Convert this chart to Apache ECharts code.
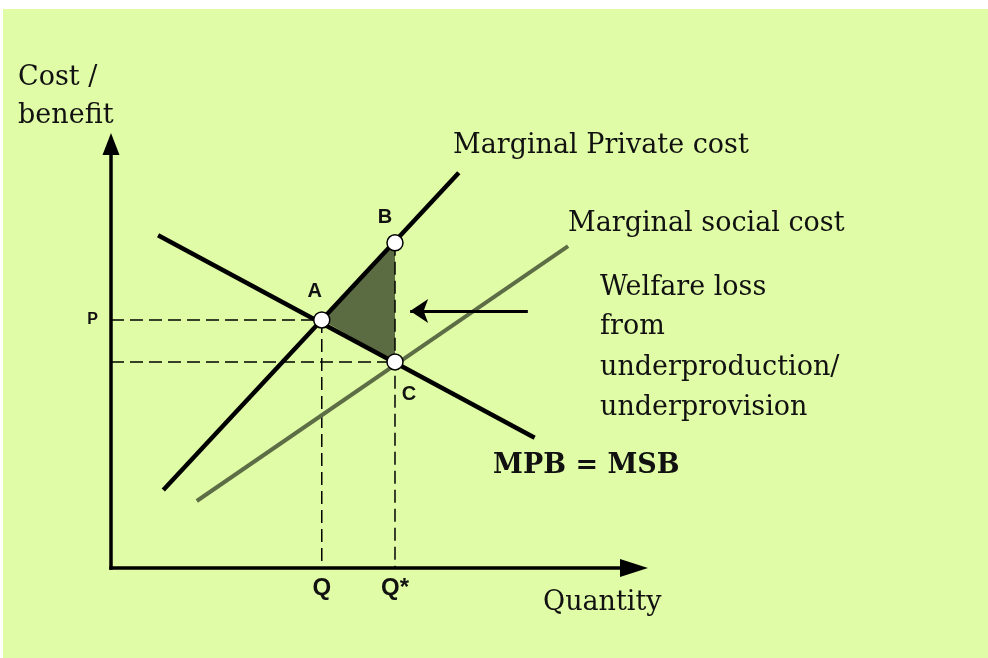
<!DOCTYPE html>
<html>
<head>
<meta charset="utf-8">
<script src="https://cdn.jsdelivr.net/npm/echarts@6/dist/echarts.min.js"></script>
<style>
  html, body { margin: 0; padding: 0; background: #fff; }
  #bg { position: absolute; left: 3px; top: 9px; width: 985px; height: 649px; background: #e0fca6; }
  #main { position: absolute; left: 0; top: 0; width: 988px; height: 658px; }
</style>
</head>
<body>
<div id="bg"></div>
<div id="main"></div>
<script>
// curves, quantity 0-100 on x, cost/benefit 0-100 on y
var mpbLine = [[9, 78.5], [81, 30.7]];        // MPB = MSB
var mpcLine = [[10, 18.4], [66.5, 93.2]];     // marginal private cost
var mscLine = [[16.4, 15.8], [87.4, 75.9]];   // marginal social cost
var Q = 40.3, Qstar = 54.3, P = 58.5, Pc = 48.6;
var pointNames = ['A', 'B', 'C'];
var pointValues = [[Q, P], [Qstar, 76.7], [Qstar, Pc]];
var arrowCoords = [[79.7, 60.6], [57.2, 60.6]];
var xTickLabels = ['Q', 'Q*'];
var yTickLabels = ['P'];

var myChart = echarts.init(document.getElementById('main'));

var serif = '"DejaVu Serif", serif';
var dash = { color: '#000', width: 1.5, type: [13, 6] };

// y is the top of the text box (baseline is about 21px lower)
function txt(text, x, y, bold) {
    return {
        type: 'text', x: x, y: y,
        style: {
            text: text, fill: '#111',
            font: (bold ? 'bold ' : '') + '27px ' + serif,
            verticalAlign: 'top'
        }
    };
}

var option = {
    animation: false,
    grid: { left: 111, top: 144, width: 523, height: 424, outerBoundsMode: 'none' },
    xAxis: {
        type: 'value', min: 0, max: 100,
        splitLine: { show: false },
        axisTick: { show: false },
        axisLine: {
            show: true, symbol: ['none', 'triangle'], symbolSize: [18, 28],
            lineStyle: { color: '#000', width: 3.5, cap: 'square' }
        },
        axisLabel: {
            customValues: [Q, Qstar],
            formatter: function (v) { return v === Q ? xTickLabels[0] : xTickLabels[1]; },
            color: '#111', fontSize: 24, fontWeight: 'bold',
            fontFamily: '"Liberation Sans", Arial, sans-serif', margin: 8
        }
    },
    yAxis: {
        type: 'value', min: 0, max: 100,
        splitLine: { show: false },
        axisTick: { show: false },
        axisLine: {
            show: true, symbol: ['none', 'triangle'], symbolSize: [17, 22],
            lineStyle: { color: '#000', width: 3.5, cap: 'square' }
        },
        axisLabel: {
            customValues: [P],
            formatter: function () { return yTickLabels[0]; },
            color: '#111', fontSize: 16, fontWeight: 'bold',
            fontFamily: '"Liberation Sans", Arial, sans-serif', margin: 13
        }
    },
    series: [
        {
            // welfare loss triangle
            type: 'custom',
            z: 1,
            data: [[pointValues[0][0], pointValues[0][1], pointValues[1][0], pointValues[1][1], pointValues[2][0], pointValues[2][1]]],
            encode: { x: [0, 2, 4], y: [1, 3, 5] },
            renderItem: function (params, api) {
                var pts = [];
                for (var i = 0; i < 3; i++) {
                    pts.push(api.coord([api.value(i * 2), api.value(i * 2 + 1)]));
                }
                return { type: 'polygon', shape: { points: pts }, style: { fill: '#5c6c42' } };
            }
        },
        { type: 'line', data: [[0, P], pointValues[0]], symbol: 'none', lineStyle: dash, z: 2 },
        { type: 'line', data: [[0, Pc], pointValues[2]], symbol: 'none', lineStyle: dash, z: 2 },
        { type: 'line', data: [pointValues[0], [Q, 0]], symbol: 'none', lineStyle: dash, z: 2 },
        { type: 'line', data: [pointValues[1], [Qstar, 0]], symbol: 'none', lineStyle: dash, z: 2 },
        { type: 'line', data: mscLine, symbol: 'none', lineStyle: { color: '#5d6d45', width: 4 }, z: 3 },
        { type: 'line', data: mpbLine, symbol: 'none', lineStyle: { color: '#000', width: 4.5 }, z: 4 },
        { type: 'line', data: mpcLine, symbol: 'none', lineStyle: { color: '#000', width: 4.5 }, z: 4 },
        {
            type: 'lines', coordinateSystem: 'cartesian2d', z: 4,
            symbol: ['none', 'arrow'], symbolSize: [14, 18],
            lineStyle: { color: '#000', width: 3, opacity: 1 },
            data: [{ coords: arrowCoords }]
        },
        {
            type: 'scatter', z: 6,
            symbol: 'circle', symbolSize: 16,
            itemStyle: { color: '#fff', borderColor: '#000', borderWidth: 1.5, opacity: 1 },
            label: {
                show: true, position: 'inside',
                formatter: function (p) { return pointNames[p.dataIndex]; },
                color: '#111', fontSize: 20, fontWeight: 'bold',
                fontFamily: '"Liberation Sans", Arial, sans-serif'
            },
            data: [
                { value: pointValues[0], label: { offset: [-7, -28] } },
                { value: pointValues[1], label: { offset: [-10, -25] } },
                { value: pointValues[2], label: { offset: [14, 33] } }
            ]
        }
    ],
    graphic: [
        txt('Cost /', 18, 64),
        txt('benefit', 18, 102),
        txt('Marginal Private cost', 453, 132),
        txt('Marginal social cost', 568, 210),
        txt('Welfare loss', 600, 274),
        txt('from', 600, 313),
        txt('underproduction/', 600, 354),
        txt('underprovision', 600, 394),
        txt('MPB = MSB', 493, 452, true),
        txt('Quantity', 543, 589)
    ]
};

myChart.setOption(option);
</script>
</body>
</html>
